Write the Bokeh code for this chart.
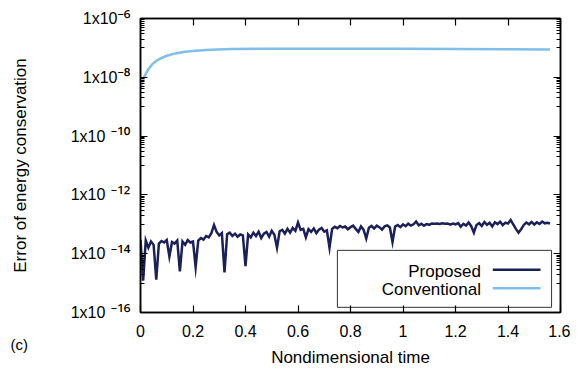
from bokeh.plotting import figure
from bokeh.models import (Range1d, FixedTicker, LinearAxis, LogAxis, CustomJSTickFormatter,
                          CustomLabelingPolicy, Label, BoxAnnotation, ColumnDataSource)
from bokeh.embed import file_html
from bokeh.resources import INLINE

# ---------------- data ----------------
# Proposed scheme: error in units of 1e-14, sampled every 0.01 in time
proposed_e14 = [
    3.0, 0.12, 2.8, 1.6, 2.6, 2.0, 0.13, 2.2, 2.7, 2.4,
    2.9, 0.8, 2.5, 2.2, 2.8, 0.25, 2.6, 2.0, 2.9, 2.4,
    2.6, 0.35, 2.8, 3.4, 3.0, 4.0, 3.6, 5.0, 9.5, 5.5,
    4.2, 5.0, 0.23, 4.6, 5.2, 4.0, 4.8, 3.8, 4.5, 4.2,
    0.38, 4.5, 3.6, 5.2, 4.0, 5.6, 3.4, 4.8, 5.5, 3.8,
    6.0, 4.4, 1.6, 5.8, 6.5, 4.8, 7.0, 5.2, 7.5, 6.0,
    11.5, 6.5, 7.0, 3.6, 6.8, 5.5, 7.2, 5.0, 6.6, 7.5,
    5.6, 6.2, 1.6, 7.0, 8.2, 7.4, 8.8, 7.8, 8.4, 6.8,
    8.0, 9.0, 7.0, 5.5, 8.5, 6.5, 3.3, 7.6, 8.8, 7.2,
    9.0, 8.0, 6.6, 8.6, 9.2, 7.8, 2.5, 8.4, 9.5, 8.0,
    10.0, 8.6, 10.5, 9.0, 10.0, 12.5, 9.2, 10.5, 9.0, 10.2,
    9.6, 10.7, 10.5, 10.7, 10.2, 10.8, 10.4, 10.7, 9.8, 10.6,
    10.0, 11.0, 8.2, 10.4, 9.0, 11.5, 8.6, 5.2, 9.5, 11.0,
    8.8, 12.0, 9.6, 11.2, 8.4, 11.8, 10.2, 12.2, 9.4, 11.4,
    10.6, 14.0, 10.0, 7.0, 5.2, 6.8, 9.5, 11.5, 10.0, 12.0,
    9.8, 11.6, 10.2, 12.4, 10.8, 11.2, 10.6,
]
proposed_time = [round(i * 0.01, 2) for i in range(len(proposed_e14))]
proposed_error = [v * 1e-14 for v in proposed_e14]

conventional_time = [0.0, 0.005, 0.01, 0.02, 0.03, 0.045, 0.06, 0.083, 0.1, 0.133,
                     0.17, 0.21, 0.25, 0.29, 0.35, 0.45, 0.6, 0.8, 1.0, 1.2, 1.4, 1.56]
conventional_error = [3.8e-9, 6.0e-9, 8.5e-9, 1.3e-8, 1.9e-8, 2.8e-8, 3.6e-8, 4.7e-8, 5.4e-8, 6.5e-8,
                      7.4e-8, 8.0e-8, 8.5e-8, 8.8e-8, 9.1e-8, 9.3e-8, 9.4e-8, 9.4e-8, 9.3e-8, 9.2e-8,
                      9.0e-8, 8.9e-8]

x_ticks = [0, 0.2, 0.4, 0.6, 0.8, 1.0, 1.2, 1.4, 1.6]
y_ticks = [1e-16, 1e-14, 1e-12, 1e-10, 1e-8, 1e-6]
y_minor = [k * 10.0 ** (e + 1) for e in (-16, -14, -12, -10, -8) for k in range(1, 10)]

series_names = ["Proposed", "Conventional"]
series_colors = ["#1b2058", "#7fbfea"]

FONT = "Liberation Sans"

# ---------------- figure ----------------
p = figure(frame_width=420, frame_height=294,
           x_range=Range1d(0, 1.6), y_range=Range1d(1e-16, 1e-6),
           y_axis_type="log", output_backend="svg", toolbar_location=None,
           min_border_left=140, min_border_right=10, min_border_top=18, min_border_bottom=58)
p.background_fill_color = "white"
p.border_fill_color = "white"
p.outline_line_color = "black"
p.outline_line_width = 1.5
p.xgrid.visible = False
p.ygrid.visible = False

xticker = FixedTicker(ticks=x_ticks, minor_ticks=[])
yticker = FixedTicker(ticks=y_ticks, minor_ticks=y_minor)

xfmt = CustomJSTickFormatter(code="return (Math.round(tick*10)/10).toString();")
exp_fmt = CustomJSTickFormatter(code="""
const e = Math.round(Math.log10(tick));
const m = {'-':'\u207b','0':'\u2070','1':'\u00b9','2':'\u00b2','3':'\u00b3','4':'\u2074',
           '5':'\u2075','6':'\u2076','7':'\u2077','8':'\u2078','9':'\u2079'};
return String(e).split('').map(c => m[c]).join('');
""")
# mantissa; two-digit exponents get a little fixed-width padding so the mantissa
# stays snug against its (right-aligned) exponent
mant_fmt = CustomJSTickFormatter(code="""
const e = Math.round(Math.log10(tick));
return Math.abs(e) >= 10 ? '1x10\u2007\u2009' : '1x10';
""")
blank_fmt = CustomJSTickFormatter(code="return '';")
hide_all = CustomLabelingPolicy(code="for (const i of indices) { indices.unset(i) } return indices;")


def style_axis(ax, show_labels):
    ax.axis_line_color = "black"
    ax.axis_line_width = 1.5
    ax.major_tick_in = 7
    ax.major_tick_out = 0
    ax.minor_tick_in = 4
    ax.minor_tick_out = 0
    ax.major_tick_line_color = "black"
    ax.minor_tick_line_color = "black"
    ax.major_tick_line_width = 1.2
    ax.minor_tick_line_width = 1
    ax.major_label_text_font = FONT
    ax.major_label_text_color = "black"
    ax.axis_label_text_font = FONT
    ax.axis_label_text_font_style = "normal"
    ax.axis_label_text_color = "black"
    ax.axis_label_text_font_size = "17px"
    if show_labels:
        ax.major_label_text_font_size = "16px"
    else:
        ax.formatter = blank_fmt
        ax.major_label_policy = hide_all
        ax.major_label_text_font_size = "1px"
        ax.major_label_standoff = 0


# bottom
xa = p.xaxis[0]
xa.ticker = xticker
xa.formatter = xfmt
style_axis(xa, True)
xa.major_label_standoff = 12
xa.axis_label = "Nondimensional time"
xa.axis_label_standoff = 8

# left: inner axis carries ticks + exponent (superscript) labels
ya = p.yaxis[0]
ya.ticker = yticker
style_axis(ya, True)
ya.formatter = exp_fmt
ya.major_label_text_font = "Noto Sans"
ya.major_label_text_font_size = "19px"
ya.major_label_standoff = 10

# left: outer axis carries the "1x10" mantissa and the axis title
ym = LogAxis(ticker=FixedTicker(ticks=y_ticks, minor_ticks=[]), formatter=mant_fmt)
style_axis(ym, True)
ym.axis_line_color = None
ym.major_tick_line_color = None
ym.minor_tick_line_color = None
ym.major_label_standoff = -10
ym.axis_label = "Error of energy conservation"
ym.axis_label_standoff = 38
p.add_layout(ym, "left")

# top & right mirrors
top = LinearAxis(ticker=xticker)
style_axis(top, False)
p.add_layout(top, "above")
right = LogAxis(ticker=yticker)
style_axis(right, False)
p.add_layout(right, "right")

# data lines
src_p = ColumnDataSource(dict(t=proposed_time, e=proposed_error))
src_c = ColumnDataSource(dict(t=conventional_time, e=conventional_error))
p.line("t", "e", source=src_c, color=series_colors[1], line_width=2.5)
p.line("t", "e", source=src_p, color=series_colors[0], line_width=2.5, line_join="miter")

# legend (gnuplot style: label right-aligned, sample on the right)
box = BoxAnnotation(left=0.75, right=1.566, bottom=1.5e-16, top=1.3e-14, level="underlay",
                    fill_color="white", fill_alpha=1.0,
                    line_color="#333333", line_alpha=1.0, line_width=1)
p.add_layout(box)
legend_src = ColumnDataSource(dict(x0=[1.342, 1.342], x1=[1.524, 1.524],
                                   y=[2.83e-15, 6.7e-16], c=series_colors))
p.segment(x0="x0", y0="y", x1="x1", y1="y", color="c", line_width=2.5, source=legend_src)
for name, yy in zip(series_names, [2.48e-15, 6.05e-16]):
    p.add_layout(Label(x=1.297, y=yy, text=name, text_align="right", text_baseline="middle",
                       text_font=FONT, text_font_size="17px", text_color="black"))

# panel tag "(c)" (placed in a side panel so that it is not clipped to the frame)
p.add_layout(Label(x=-0.495, y=8.1e-18, text="(c)", text_align="left", text_baseline="middle",
                   text_font=FONT, text_font_size="15px", text_color="black"), "above")

with open("out.html", "w", encoding="utf-8") as f:
    f.write(file_html(p, INLINE))
